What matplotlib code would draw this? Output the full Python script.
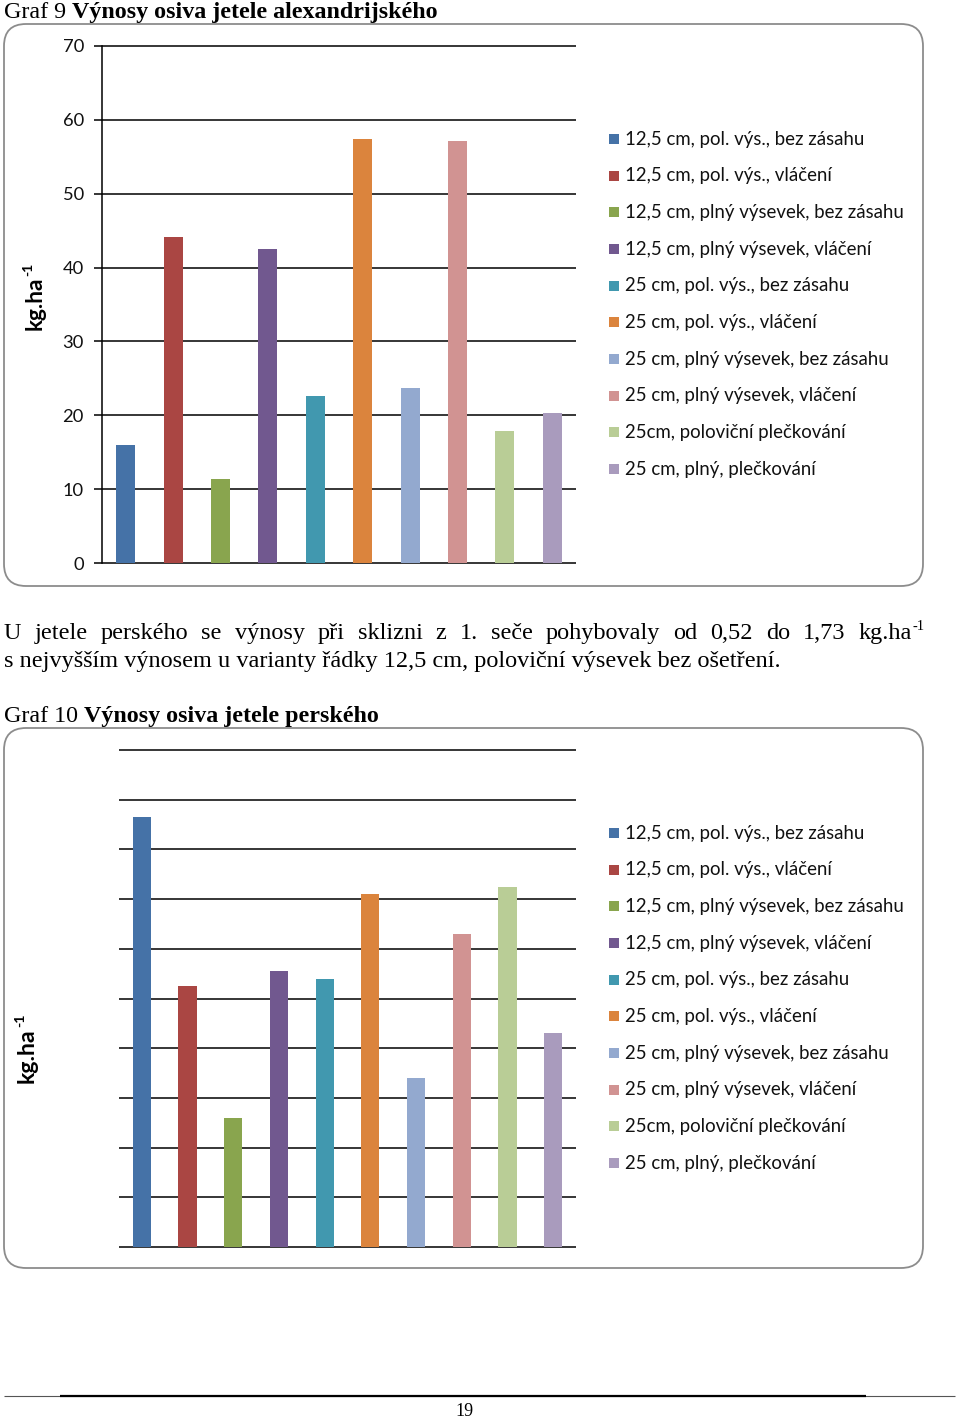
import matplotlib
matplotlib.use("Agg")
import matplotlib.pyplot as plt
from matplotlib.patches import FancyBboxPatch, Rectangle

# ---------------- data ----------------
series_labels = [
    "12,5 cm, pol. výs., bez zásahu",
    "12,5 cm, pol. výs., vláčení",
    "12,5 cm, plný výsevek, bez zásahu",
    "12,5 cm, plný výsevek, vláčení",
    "25 cm, pol. výs., bez zásahu",
    "25 cm, pol. výs., vláčení",
    "25 cm, plný výsevek, bez zásahu",
    "25 cm, plný výsevek, vláčení",
    "25cm, poloviční plečkování",
    "25 cm, plný, plečkování",
]
series_colors = ["#4572A7", "#AA4643", "#89A54E", "#71588F", "#4198AF",
                 "#DB843D", "#93A9CF", "#D19392", "#B9CD96", "#A99BBD"]
alex_values = [16.0, 44.2, 11.4, 42.5, 22.6, 57.4, 23.7, 57.1, 17.9, 20.3]
alex_ticks = [0, 10, 20, 30, 40, 50, 60, 70]
pers_values = [1.73, 1.05, 0.52, 1.11, 1.08, 1.42, 0.68, 1.26, 1.45, 0.86]
pers_ticks = [0.0, 0.2, 0.4, 0.6, 0.8, 1.0, 1.2, 1.4, 1.6, 1.8, 2.0]

title1_a = "Graf 9 "
title1_b = "Výnosy osiva jetele alexandrijského"
title2_a = "Graf 10 "
title2_b = "Výnosy osiva jetele perského"
para_line1 = "U jetele perského se výnosy při sklizni z 1. seče pohybovaly od 0,52 do 1,73 kg.ha"
para_line2 = "s nejvyšším výnosem u varianty řádky 12,5 cm, poloviční výsevek bez ošetření."
unit_main = "kg.ha"
unit_sup = "-1"
page_number = "19"

SERIF = "Liberation Serif"
SANS = "Lato"

W, H = 960, 1420
fig = plt.figure(figsize=(W / 100, H / 100), dpi=100)
fig.patch.set_facecolor("white")
renderer = fig.canvas.get_renderer()

bg = fig.add_axes([0, 0, 1, 1], zorder=0)
bg.set_xlim(0, W)
bg.set_ylim(H, 0)
bg.axis("off")


def px_axes(x0, y0, x1, y1):
    ax = fig.add_axes([x0 / W, 1 - y1 / H, (x1 - x0) / W, (y1 - y0) / H], zorder=2)
    ax.patch.set_alpha(0)
    return ax


def width_of(s, size, **kw):
    t = bg.text(0, 0, s, fontsize=size, **kw)
    w = t.get_window_extent(renderer).width
    t.remove()
    return w


def fit_size(s, target_w, **kw):
    return 20 * target_w / width_of(s, 20, **kw)


# ---------------- frames ----------------
def frame(x0, y0, x1, y1):
    bg.add_patch(FancyBboxPatch((x0, y0), x1 - x0, y1 - y0,
                                boxstyle="round,pad=0,rounding_size=22",
                                ec="#8c8c8c", fc="none", lw=1.3))


frame(4, 24, 923, 586)
frame(4, 728, 923, 1268)

# ---------------- titles ----------------
def title(xa, base, a, b, total_w):
    s_ref = fit_size(a + b, total_w, family=SERIF, fontweight="bold")
    wa = width_of(a, s_ref, family=SERIF)
    bg.text(xa, base, a, fontsize=s_ref, family=SERIF, va="baseline")
    bg.text(xa + wa, base, b, fontsize=s_ref, family=SERIF, fontweight="bold", va="baseline")


title(4, 18, title1_a, title1_b, 438)
title(4, 722, title2_a, title2_b, 379)

# ---------------- paragraph ----------------
psize = fit_size(para_line2, 777, family=SERIF)
bg.text(4, 667, para_line2, fontsize=psize, family=SERIF, va="baseline")
words = para_line1.split(" ")
sup_w = width_of(unit_sup, psize * 0.6, family=SERIF)
end_x = 925 - sup_w - 1
wws = [width_of(w, psize, family=SERIF) for w in words]
gap = (end_x - 4 - sum(wws)) / (len(words) - 1)
x = 4
for w, ww in zip(words, wws):
    bg.text(x, 639, w, fontsize=psize, family=SERIF, va="baseline")
    x += ww + gap
bg.text(end_x + 1, 630, unit_sup, fontsize=psize * 0.6, family=SERIF, va="baseline")

# ---------------- chart helpers ----------------
GRID_LW = 1.1


def draw_bars(ax, values, ticks):
    xs = list(range(len(values)))
    ax.hlines(ticks, -0.5, len(values) - 0.5, colors="black", lw=GRID_LW,
              clip_on=False, zorder=1)
    ax.bar(xs, values, width=0.4, color=series_colors, zorder=2)
    ax.set_xlim(-0.5, len(values) - 0.5)
    ax.set_ylim(ticks[0], ticks[-1])
    ax.set_xticks([])
    for sp in ax.spines.values():
        sp.set_visible(False)


def legend(y_first, step):
    lsize = fit_size(series_labels[2], 279, family=SANS)
    for i, (lab, col) in enumerate(zip(series_labels, series_colors)):
        y = y_first + i * step
        bg.add_patch(Rectangle((609, y - 5), 10, 10, color=col, lw=0))
        bg.text(625, y, lab, fontsize=lsize, family=SANS, va="center", color="#111111")


def unit_label(xc, ybottom, total_h):
    size = fit_size(unit_main, total_h * 0.80, family=SANS, fontweight="bold")
    t = bg.text(xc, ybottom, unit_main, fontsize=size, family=SANS, fontweight="bold",
                rotation=90, ha="left", va="center", rotation_mode="anchor")
    h = t.get_window_extent(renderer).height
    bg.text(xc - size * 0.42, ybottom - h - 1, unit_sup, fontsize=size * 0.62, family=SANS,
            fontweight="bold", rotation=90, ha="left", va="center", rotation_mode="anchor")


# ---------------- chart 1 ----------------
ax1 = px_axes(102, 46, 576, 563)
draw_bars(ax1, alex_values, alex_ticks)
ax1.spines["left"].set_visible(True)
ax1.spines["left"].set_linewidth(GRID_LW)
ax1.spines["left"].set_color("black")
ax1.set_yticks(alex_ticks)
ax1.set_yticklabels([str(t) for t in alex_ticks], family=SANS, fontsize=13.2, color="#111111")
ax1.tick_params(axis="y", direction="out", length=6, width=GRID_LW, color="black", pad=7)
legend(139, 36.67)
unit_label(35, 330, 67)

# ---------------- chart 2 ----------------
ax2 = px_axes(119, 750, 576, 1247)
draw_bars(ax2, pers_values, pers_ticks)
ax2.set_yticks([])
legend(833, 36.67)
unit_label(27, 1083, 68)

# ---------------- footer ----------------
bg.hlines(1396, 4, 955, colors="#555555", lw=0.8)
bg.hlines(1396, 60, 866, colors="black", lw=1.6)
bg.text(464, 1411, page_number, fontsize=13, family=SERIF, ha="center", va="center")

fig.savefig("out.png", dpi=100, facecolor="white")
